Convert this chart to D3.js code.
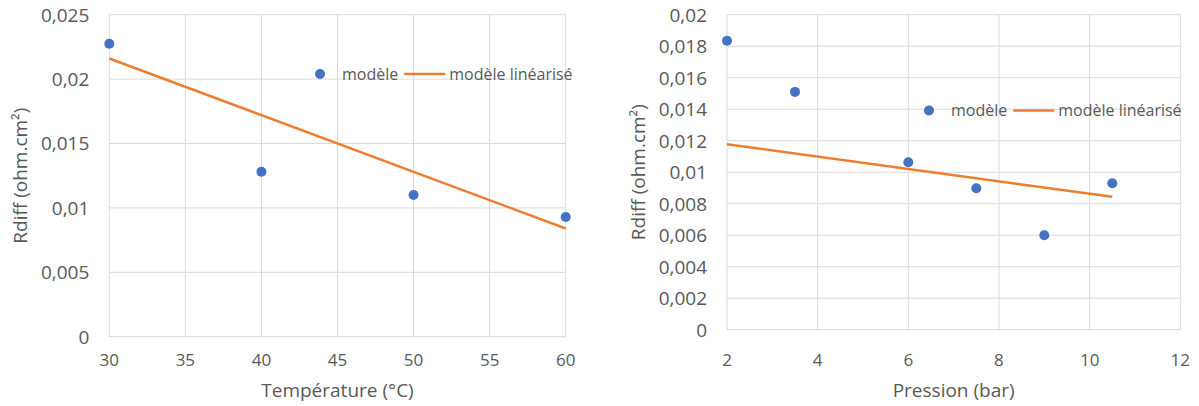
<!DOCTYPE html>
<html><head><meta charset="utf-8">
<script src="https://cdn.jsdelivr.net/npm/d3@7"></script>
<style>body{margin:0;background:#fff}svg{display:block}text{font-family:"Open Sans",sans-serif;fill:#595959}</style>
</head><body><svg id="c" width="1199" height="406"></svg>
<script>
// Chart 1 : température
const tempX = [30, 40, 50, 60];
const tempR = [0.02275, 0.0128, 0.0110, 0.0093];
const tempLinX = [30, 60];
const tempLinR = [0.0216, 0.0084];
const tempXTicks = [30, 35, 40, 45, 50, 55, 60];
const tempYTicks = [0, 0.005, 0.01, 0.015, 0.02, 0.025];
// Chart 2 : pression
const presX = [2, 3.5, 6, 7.5, 9, 10.5];
const presR = [0.01835, 0.0151, 0.01063, 0.00898, 0.0060, 0.0093];
const presLinX = [2, 10.5];
const presLinR = [0.01177, 0.00844];
const presXTicks = [2, 4, 6, 8, 10, 12];
const presYTicks = [0, 0.002, 0.004, 0.006, 0.008, 0.01, 0.012, 0.014, 0.016, 0.018, 0.02];
const yTitle = "Rdiff (ohm.cm²)";
const legendNames = ["modèle", "modèle linéarisé"];

const svg = d3.select("#c");
const fmt = v => String(+v.toFixed(4)).replace(".", ",");

function chart(o) {
  const x = d3.scaleLinear().domain(o.xDom).range([o.left, o.right]);
  const y = d3.scaleLinear().domain(o.yDom).range([o.bottom, o.top]);
  const g = svg.append("g");
  // gridlines
  g.selectAll(".gy").data(o.yTicks).join("line")
    .attr("x1", o.left).attr("x2", o.right)
    .attr("y1", d => y(d)).attr("y2", d => y(d))
    .attr("stroke", "#d9d9d9").attr("stroke-width", 1);
  g.selectAll(".gx").data(o.xTicks).join("line")
    .attr("y1", o.top).attr("y2", o.bottom)
    .attr("x1", d => x(d)).attr("x2", d => x(d))
    .attr("stroke", "#d9d9d9").attr("stroke-width", 1);
  // tick labels
  g.selectAll(".ty").data(o.yTicks).join("text")
    .attr("x", o.left - 20).attr("y", d => y(d)).attr("dy", "0.36em")
    .attr("text-anchor", "end").attr("font-size", 19).text(fmt);
  g.selectAll(".tx").data(o.xTicks).join("text")
    .attr("x", d => x(d)).attr("y", 366)
    .attr("text-anchor", "middle").attr("font-size", 17).text(d => d);
  // titles
  g.append("text").attr("x", (o.left + o.right) / 2).attr("y", 397)
    .attr("text-anchor", "middle").attr("font-size", 19).text(o.xTitle);
  g.append("text")
    .attr("transform", `translate(${o.yTitleX},${(o.top + o.bottom) / 2}) rotate(-90)`)
    .attr("text-anchor", "middle").attr("font-size", 19).text(yTitle);
  // line
  const line = d3.line().x(d => x(d[0])).y(d => y(d[1]));
  g.append("path").datum(o.linX.map((v, i) => [v, o.linR[i]]))
    .attr("d", line).attr("fill", "none").attr("stroke", "#ED7D31").attr("stroke-width", 2.5);
  // points
  g.selectAll(".pt").data(o.px.map((v, i) => [v, o.pr[i]])).join("circle")
    .attr("cx", d => x(d[0])).attr("cy", d => y(d[1])).attr("r", 5).attr("fill", "#4472C4");
  // legend
  const lg = g.append("g");
  let cx = o.legX;
  lg.append("circle").attr("cx", cx).attr("cy", o.legY).attr("r", 5).attr("fill", "#4472C4");
  cx += 22;
  const t1 = lg.append("text").attr("x", cx).attr("y", o.legY).attr("dy", "0.36em").attr("font-size", 16).text(legendNames[0]);
  cx += t1.node().getComputedTextLength() + 6;
  lg.append("line").attr("x1", cx).attr("x2", cx + 41).attr("y1", o.legY).attr("y2", o.legY)
    .attr("stroke", "#ED7D31").attr("stroke-width", 2.5);
  cx += 45;
  lg.append("text").attr("x", cx).attr("y", o.legY).attr("dy", "0.36em").attr("font-size", 16).text(legendNames[1]);
}

chart({xDom: [30, 60], yDom: [0, 0.025], left: 109.3, right: 565.7, top: 14.7, bottom: 336.7,
  xTicks: tempXTicks, yTicks: tempYTicks, xTitle: "Température (°C)", yTitleX: 27,
  px: tempX, pr: tempR, linX: tempLinX, linR: tempLinR, legX: 320, legY: 74});
chart({xDom: [2, 12], yDom: [0, 0.02], left: 727, right: 1180.3, top: 14.7, bottom: 329.7,
  xTicks: presXTicks, yTicks: presYTicks, xTitle: "Pression (bar)", yTitleX: 645,
  px: presX, pr: presR, linX: presLinX, linR: presLinR, legX: 929, legY: 110.5});
</script></body></html>
